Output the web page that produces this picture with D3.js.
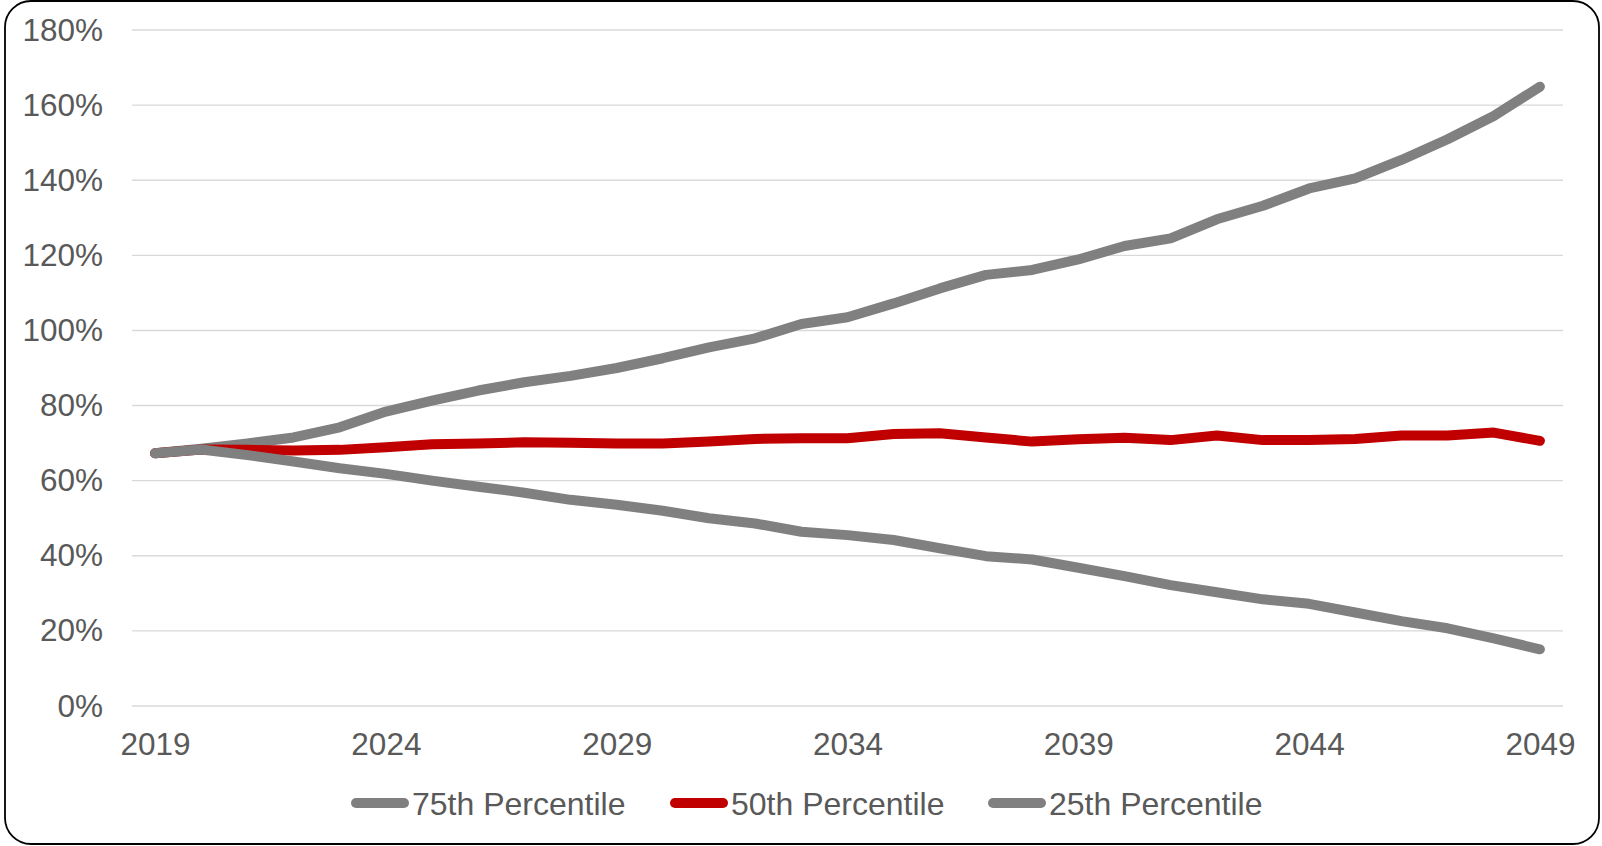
<!DOCTYPE html>
<html>
<head>
<meta charset="utf-8">
<script src="https://cdn.jsdelivr.net/npm/d3@7"></script>
<style>
  html, body { margin: 0; padding: 0; background: #fff; }
  svg { display: block; }
  text { font-family: Arial, "Liberation Sans", sans-serif; fill: #595959; }
</style>
</head>
<body>
<svg id="chart" width="1602" height="846"></svg>
<script>
// Projection years
const years = d3.range(2019, 2050);
const tickYears = [2019, 2024, 2029, 2034, 2039, 2044, 2049];
const yTicks = [0, 20, 40, 60, 80, 100, 120, 140, 160, 180];

// Percentile paths (percent)
const p75 = [67.3, 68.5, 69.9, 71.5, 74.2, 78.4, 81.3, 84.0, 86.2, 87.9, 90.0, 92.6, 95.5, 97.9, 101.7, 103.5,
             107.2, 111.2, 114.8, 116.1, 118.9, 122.5, 124.5, 129.6, 133.2, 137.8, 140.5, 145.4, 150.9, 157.1, 164.9];
const p50 = [67.3, 68.3, 68.2, 68.0, 68.2, 68.9, 69.7, 69.9, 70.2, 70.1, 69.9, 69.9, 70.4, 71.1, 71.3, 71.3,
             72.4, 72.6, 71.5, 70.4, 71.0, 71.4, 70.8, 72.0, 70.8, 70.8, 71.1, 72.0, 72.0, 72.8, 70.6];
const p25 = [67.3, 68.3, 66.8, 65.1, 63.3, 61.8, 60.0, 58.4, 56.8, 54.9, 53.6, 52.0, 50.0, 48.6, 46.4, 45.5,
             44.2, 42.0, 39.9, 39.0, 36.8, 34.6, 32.2, 30.3, 28.4, 27.2, 24.9, 22.6, 20.7, 18.0, 15.1];

const seriesNames = ["75th Percentile", "50th Percentile", "25th Percentile"];
const seriesColors = ["#808080", "#C00000", "#808080"];
const seriesValues = [p75, p50, p25];

const svg = d3.select("#chart");

// Rounded outer frame
svg.append("rect")
  .attr("x", 5).attr("y", 1)
  .attr("width", 1594).attr("height", 843)
  .attr("rx", 26).attr("ry", 26)
  .attr("fill", "#fff")
  .attr("stroke", "#000")
  .attr("stroke-width", 1.8);

const plot = { left: 132, right: 1563, top: 30, bottom: 706 };

const xBand = d3.scaleBand().domain(years).range([plot.left, plot.right]);
const x = d => xBand(d) + xBand.bandwidth() / 2;
const y = d3.scaleLinear().domain([0, 180]).range([plot.bottom, plot.top]);

// Horizontal gridlines
svg.append("g")
  .selectAll("line")
  .data(yTicks)
  .join("line")
  .attr("x1", plot.left).attr("x2", plot.right)
  .attr("y1", d => y(d)).attr("y2", d => y(d))
  .attr("stroke", "#D9D9D9")
  .attr("stroke-width", 1.4);

// Y axis labels
const yAxis = svg.append("g")
  .attr("transform", `translate(${plot.left},0)`)
  .call(d3.axisLeft(y).tickValues(yTicks).tickFormat(d => d + "%").tickSize(0).tickPadding(29));
yAxis.select(".domain").remove();
yAxis.selectAll("text").attr("font-size", 31.5).attr("fill", "#595959")
  .style("font-family", "Arial, 'Liberation Sans', sans-serif");

// X axis labels
const xAxis = svg.append("g")
  .attr("transform", `translate(0,${plot.bottom})`)
  .call(d3.axisBottom(d3.scalePoint().domain(years).range([x(2019), x(2049)]))
    .tickValues(tickYears).tickSize(0).tickPadding(27));
xAxis.select(".domain").remove();
xAxis.selectAll("text").attr("font-size", 31.5).attr("fill", "#595959")
  .style("font-family", "Arial, 'Liberation Sans', sans-serif");

// Series lines
const line = d3.line()
  .x((d, i) => x(years[i]))
  .y(d => y(d));

svg.append("g")
  .selectAll("path")
  .data(seriesValues)
  .join("path")
  .attr("d", d => line(d))
  .attr("fill", "none")
  .attr("stroke", (d, i) => seriesColors[i])
  .attr("stroke-width", 10)
  .attr("stroke-linecap", "round")
  .attr("stroke-linejoin", "round");

// Legend
const legendX = [356, 675, 993];
const legend = svg.append("g")
  .selectAll("g")
  .data(seriesNames)
  .join("g")
  .attr("transform", (d, i) => `translate(${legendX[i]},803)`);

legend.append("line")
  .attr("x1", 0).attr("x2", 48)
  .attr("y1", 0).attr("y2", 0)
  .attr("stroke", (d, i) => seriesColors[i])
  .attr("stroke-width", 10)
  .attr("stroke-linecap", "round");

legend.append("text")
  .attr("x", 56)
  .attr("y", 12)
  .attr("font-size", 32)
  .text(d => d);
</script>
</body>
</html>
